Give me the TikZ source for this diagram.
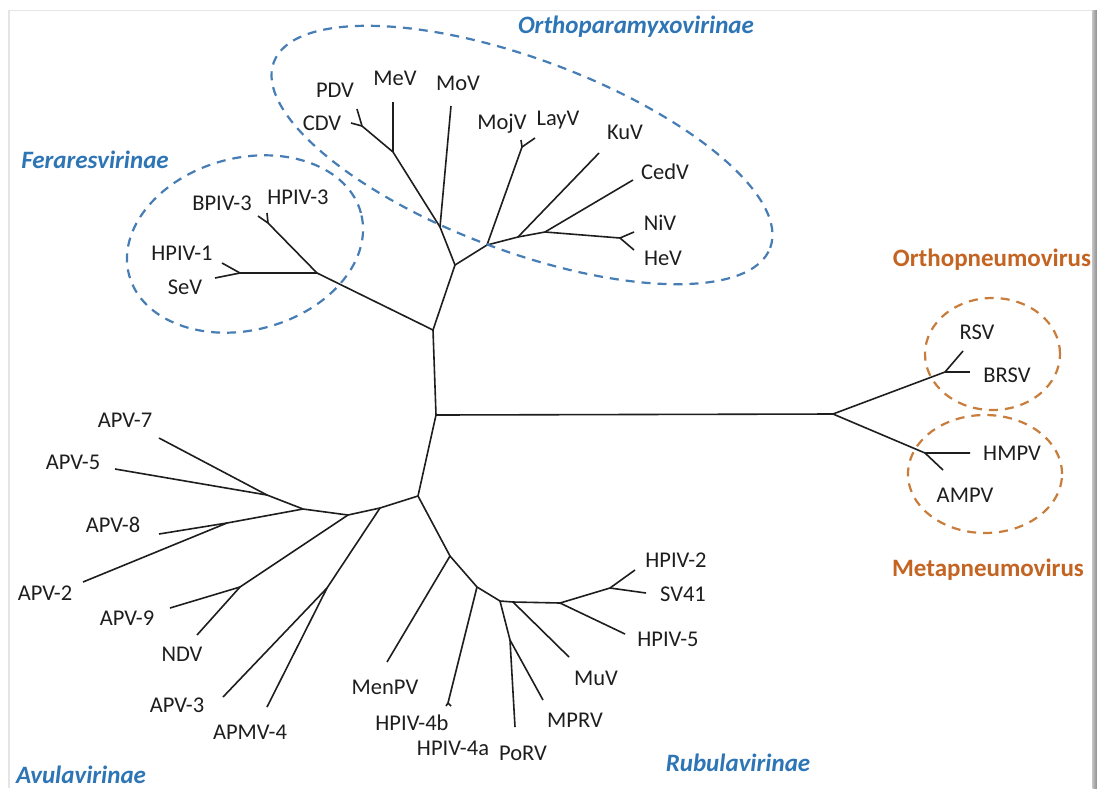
\documentclass[tikz,border=0pt]{standalone}
\usepackage{fontspec}
\setmainfont{Carlito}
\definecolor{grpblue}{RGB}{46,117,182}
\definecolor{dashblue}{RGB}{70,125,180}
\definecolor{grporange}{RGB}{196,100,35}
\definecolor{dashorange}{RGB}{200,125,60}
\definecolor{ink}{RGB}{30,30,30}
\begin{document}
\begin{tikzpicture}[x=1pt,y=-1pt,
  br/.style={line width=1.6pt, draw=ink, line join=round},
  lab/.style={font=\fontsize{22.5}{27}\selectfont, text=ink, inner sep=0pt, anchor=base},
  grpb/.style={font=\fontsize{25}{30}\selectfont\bfseries\itshape, text=grpblue, inner sep=0pt, anchor=base},
  grpo/.style={font=\fontsize{25}{30}\selectfont\bfseries, text=grporange, inner sep=0pt, anchor=base},
  dsb/.style={draw=dashblue, line width=2.2pt, dash pattern=on 9pt off 7pt},
  dso/.style={draw=dashorange, line width=2.2pt, dash pattern=on 9pt off 7pt}]
\useasboundingbox (0,0) rectangle (1097,788);
\clip (0,0) rectangle (1097,788);
\fill[white] (0,0) rectangle (1097,788);
% frame
\draw[black!10, line width=1.2pt] (9,788) -- (9,10.5) -- (1093,10.5);
\shade[left color=black!25, right color=black!45] (1092.5,10) rectangle (1097,788);

% ---------- coordinates ----------
\coordinate (root) at (436,415);
\coordinate (n1) at (433,330);
\coordinate (ortho) at (455,265);
\coordinate (nmov) at (440,227);
\coordinate (nmev) at (393,152);
\coordinate (ncdv) at (362,126);
\coordinate (tpdv) at (357,109);
\coordinate (tcdv) at (351,123);
\coordinate (tmev) at (393,102);
\coordinate (tmov) at (451,106);
\coordinate (no2) at (487,245);
\coordinate (nmoj) at (522,147);
\coordinate (tmoj) at (521,140);
\coordinate (tlay) at (535,138);
\coordinate (nku) at (518,237);
\coordinate (tku) at (599,153);
\coordinate (nced) at (545,232);
\coordinate (tced) at (633,180);
\coordinate (nnh) at (620,238);
\coordinate (tniv) at (634,232);
\coordinate (thev) at (634,250);
\coordinate (fer) at (317,273);
\coordinate (nbh) at (268,223);
\coordinate (tbpiv) at (258,216);
\coordinate (thpiv3) at (267,213);
\coordinate (nhs) at (240,273);
\coordinate (thpiv1) at (222,263);
\coordinate (tsev) at (215,278);
% Avulavirinae
\coordinate (nlow) at (418,496);
\coordinate (nA) at (380,508);
\coordinate (nB) at (348,515);
\coordinate (nE) at (303,509);
\coordinate (nE2) at (267,495);
\coordinate (tapv7) at (159,438);
\coordinate (tapv5) at (115,469);
\coordinate (nF) at (227,523);
\coordinate (tapv8) at (159,534);
\coordinate (tapv2) at (83,582);
\coordinate (nD) at (240,587);
\coordinate (tapv9) at (170,608);
\coordinate (tndv) at (197,635);
\coordinate (nC) at (327,588);
\coordinate (tapv3) at (223,697);
\coordinate (tapmv4) at (267,707);
% Rubulavirinae
\coordinate (nG) at (450,556);
\coordinate (tmenpv) at (387,662);
\coordinate (nH) at (477,587);
\coordinate (n4) at (448,703);
\coordinate (t4b) at (446,706);
\coordinate (t4a) at (451,706);
\coordinate (nI) at (500,601);
\coordinate (nJ) at (510,640);
\coordinate (tporv) at (515,727);
\coordinate (tmprv) at (543,700);
\coordinate (nK) at (513,602);
\coordinate (tmuv) at (569,657);
\coordinate (nL) at (560,603);
\coordinate (thpiv5) at (625,634);
\coordinate (nM) at (610,588);
\coordinate (thpiv2) at (635,570);
\coordinate (tsv41) at (646,593);
% Pneumoviridae
\coordinate (nR) at (833,414);
\coordinate (nRS) at (945,372);
\coordinate (trsv) at (963,351);
\coordinate (tbrsv) at (970,372);
\coordinate (nMP) at (925,453);
\coordinate (thmpv) at (970,453);
\coordinate (tampv) at (943,470);

% ---------- branches ----------
\draw[br] (nR) -- (root) -- (n1) -- (ortho) -- (nmov) -- (nmev) -- (ncdv) -- (tpdv);
\draw[br] (ncdv) -- (tcdv);
\draw[br] (nmev) -- (tmev);
\draw[br] (nmov) -- (tmov);
\draw[br] (ortho) -- (no2) -- (nku) -- (nced) -- (nnh) -- (tniv);
\draw[br] (nnh) -- (thev);
\draw[br] (no2) -- (nmoj) -- (tmoj);
\draw[br] (nmoj) -- (tlay);
\draw[br] (nku) -- (tku);
\draw[br] (nced) -- (tced);
\draw[br] (n1) -- (fer) -- (nhs) -- (thpiv1);
\draw[br] (nhs) -- (tsev);
\draw[br] (fer) -- (nbh) -- (tbpiv);
\draw[br] (nbh) -- (thpiv3);
\draw[br] (root) -- (nlow) -- (nA) -- (nB) -- (nE) -- (nE2) -- (tapv7);
\draw[br] (nE2) -- (tapv5);
\draw[br] (nE) -- (nF) -- (tapv8);
\draw[br] (nF) -- (tapv2);
\draw[br] (nB) -- (nD) -- (tapv9);
\draw[br] (nD) -- (tndv);
\draw[br] (nA) -- (nC) -- (tapv3);
\draw[br] (nC) -- (tapmv4);
\draw[br] (nlow) -- (nG) -- (nH) -- (nI) -- (nK) -- (nL) -- (nM) -- (thpiv2);
\draw[br] (nM) -- (tsv41);
\draw[br] (nG) -- (tmenpv);
\draw[br] (nH) -- (n4) -- (t4b);
\draw[br] (n4) -- (t4a);
\draw[br] (nI) -- (nJ) -- (tporv);
\draw[br] (nJ) -- (tmprv);
\draw[br] (nK) -- (tmuv);
\draw[br] (nL) -- (thpiv5);
\draw[br] (nR) -- (nRS) -- (trsv);
\draw[br] (nRS) -- (tbrsv);
\draw[br] (nR) -- (nMP) -- (thmpv);
\draw[br] (nMP) -- (tampv);

% ---------- group outlines ----------
\draw[dsb, rotate around={-20.5:(522,155)}] (522,155) ellipse [x radius=265pt, y radius=96pt];
\draw[dsb, rotate around={15:(245,244)}] (245,244) ellipse [x radius=120pt, y radius=86pt];
\draw[dso] (992.5,354) ellipse [x radius=67.5pt, y radius=56pt];
\draw[dso] (985,474) ellipse [x radius=77pt, y radius=59pt];

% ---------- leaf labels ----------
\node[lab] (lpdv) at (335,97) {PDV};
\node[lab] (lcdv) at (322,130) {CDV};
\node[lab] (lmev) at (395,85) {MeV};
\node[lab] (lmov) at (458,90) {MoV};
\node[lab] (lmoj) at (502,129) {MojV};
\node[lab] (llay) at (558,125) {LayV};
\node[lab] (lku) at (625,139) {KuV};
\node[lab] (lced) at (665,179) {CedV};
\node[lab] (lniv) at (660,230) {NiV};
\node[lab] (lhev) at (663,265) {HeV};
\node[lab] (lbpiv) at (222,210) {BPIV-3};
\node[lab] (lhpiv3) at (298,204) {HPIV-3};
\node[lab] (lhpiv1) at (182,260) {HPIV-1};
\node[lab] (lsev) at (185,294) {SeV};
\node[lab] (lapv7) at (125,427) {APV-7};
\node[lab] (lapv5) at (73,469) {APV-5};
\node[lab] (lapv8) at (113,532) {APV-8};
\node[lab] (lapv2) at (45,600) {APV-2};
\node[lab] (lapv9) at (127,625) {APV-9};
\node[lab] (lndv) at (182,661) {NDV};
\node[lab] (lapv3) at (177,712) {APV-3};
\node[lab] (lapmv4) at (250,739) {APMV-4};
\node[lab] (lmenpv) at (385,694) {MenPV};
\node[lab] (l4b) at (412,730) {HPIV-4b};
\node[lab] (l4a) at (453,755) {HPIV-4a};
\node[lab] (lporv) at (523,760) {PoRV};
\node[lab] (lmprv) at (575,727) {MPRV};
\node[lab] (lmuv) at (596,685) {MuV};
\node[lab] (lhpiv5) at (668,646) {HPIV-5};
\node[lab] (lsv41) at (683,601) {SV41};
\node[lab] (lhpiv2) at (676,567) {HPIV-2};
\node[lab] (lrsv) at (977,339) {RSV};
\node[lab] (lbrsv) at (1007,382) {BRSV};
\node[lab] (lhmpv) at (1012,460) {HMPV};
\node[lab] (lampv) at (965,502) {AMPV};

% ---------- group labels ----------
\node[grpb] (gortho) at (636,33) {Orthoparamyxovirinae};
\node[grpb] (gfer) at (95,168) {Feraresvirinae};
\node[grpb] (grub) at (738,771) {Rubulavirinae};
\node[grpb] (gavu) at (81,783) {Avulavirinae};
\node[grpo] (gopn) at (992,266) {Orthopneumovirus};
\node[grpo] (gmpn) at (988,576) {Metapneumovirus};
\end{tikzpicture}
\end{document}
